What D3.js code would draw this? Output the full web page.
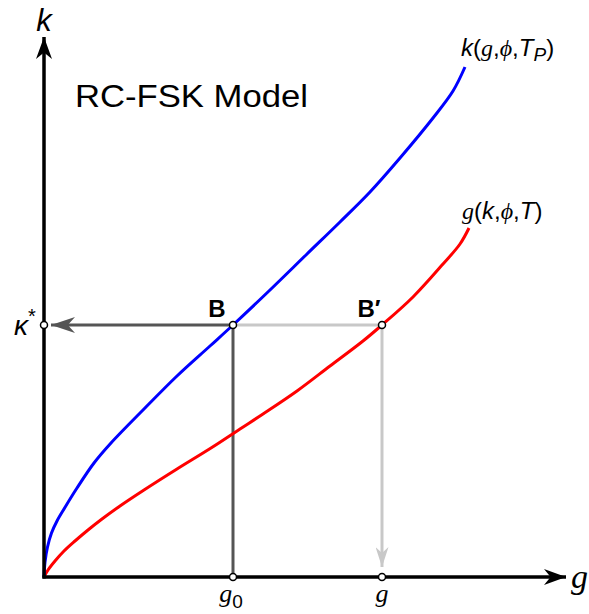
<!DOCTYPE html>
<meta charset="utf-8">
<title>RC-FSK Model</title>
<script src="https://cdn.jsdelivr.net/npm/d3@7"></script>
<style>
  body { margin: 0; background: #fff; }
</style>
<body>
<script>

// curve points (g, k) in arbitrary units
var kCurve = [[0,0],[0.02,0.3],[0.07,0.6],[0.15,0.88],[0.26,1.12],[0.4,1.36],[0.66,1.78],
              [1.0,2.28],[1.34,2.68],[2.0,3.36],[2.66,4.02],[3.32,4.62],[3.78,5.04],
              [4.52,5.74],[5.26,6.46],[5.92,7.1],[6.52,7.7],[7.12,8.38],[7.78,9.18],
              [8.18,9.72],[8.42,10.2]];
var gCurve = [[0,0],[0.08,0.14],[0.22,0.32],[0.4,0.52],[0.62,0.72],[0.88,0.94],[1.16,1.16],
              [1.52,1.42],[2.0,1.74],[2.66,2.16],[3.34,2.58],[3.92,2.96],[4.38,3.26],
              [5.06,3.72],[5.72,4.22],[6.38,4.72],[6.76,5.04],[7.38,5.6],[7.98,6.26],
              [8.32,6.66],[8.5,6.98]];
var pointB = [3.78, 5.04];
var pointBp = [6.76, 5.04];

var SANS = "'Liberation Sans', Arial, sans-serif";
var SERIF = "'Liberation Serif', 'DejaVu Serif', serif";

var w = 589, h = 614;
var svg = d3.select("body").append("svg")
    .attr("width", w)
    .attr("height", h)
    .style("font-family", SANS);

var x = d3.scaleLinear().domain([0, 10]).range([44, 544]);
var y = d3.scaleLinear().domain([0, 10]).range([577, 77]);

var defs = svg.append("defs");
function marker(id, color, len, wid) {
  defs.append("marker")
      .attr("id", id)
      .attr("viewBox", "0 0 " + len + " " + wid)
      .attr("refX", len).attr("refY", wid / 2)
      .attr("markerWidth", len).attr("markerHeight", wid)
      .attr("markerUnits", "userSpaceOnUse")
      .attr("orient", "auto")
    .append("path")
      .attr("d", "M0,0 L" + len + "," + wid / 2 + " L0," + wid + " L" + len * 0.3 + "," + wid / 2 + "Z")
      .attr("fill", color);
}
marker("ax", "#000", 22, 16);
marker("dk", "#555", 24, 16);
marker("lt", "#c8c8c8", 20, 13);

// guide lines
var g0 = x(pointB[0]), g1 = x(pointBp[0]), ky = y(pointB[1]);
svg.append("line").attr("x1", g0).attr("y1", ky).attr("x2", g1).attr("y2", ky)
    .attr("stroke", "#c8c8c8").attr("stroke-width", 3);
svg.append("line").attr("x1", g1).attr("y1", ky).attr("x2", g1).attr("y2", y(0) - 10)
    .attr("stroke", "#c8c8c8").attr("stroke-width", 3).attr("marker-end", "url(#lt)");
svg.append("line").attr("x1", g0).attr("y1", ky).attr("x2", g0).attr("y2", y(0))
    .attr("stroke", "#555").attr("stroke-width", 3);
svg.append("line").attr("x1", g0).attr("y1", ky).attr("x2", x(0) + 7).attr("y2", ky)
    .attr("stroke", "#555").attr("stroke-width", 3).attr("marker-end", "url(#dk)");

// curves
var line = d3.line()
    .x(function (d) { return x(d[0]); })
    .y(function (d) { return y(d[1]); })
    .curve(d3.curveCatmullRom.alpha(0.5));

svg.append("path").datum(gCurve).attr("d", line)
    .attr("fill", "none").attr("stroke", "#f00").attr("stroke-width", 3);
svg.append("path").datum(kCurve).attr("d", line)
    .attr("fill", "none").attr("stroke", "#00f").attr("stroke-width", 3);

// axes
svg.append("line").attr("x1", x(0) - 1.5).attr("y1", y(0)).attr("x2", 566).attr("y2", y(0))
    .attr("stroke", "#000").attr("stroke-width", 3.5).attr("marker-end", "url(#ax)");
svg.append("line").attr("x1", x(0)).attr("y1", y(0) + 1.5).attr("x2", x(0)).attr("y2", 37)
    .attr("stroke", "#000").attr("stroke-width", 3.5).attr("marker-end", "url(#ax)");

// small circles
var dots = [[g0, ky], [g1, ky], [x(0), ky], [g0, y(0)], [g1, y(0)]];
svg.selectAll(".dot").data(dots).enter().append("circle")
    .attr("class", "dot")
    .attr("cx", function (d) { return d[0]; })
    .attr("cy", function (d) { return d[1]; })
    .attr("r", 3.5)
    .attr("fill", "#fff").attr("stroke", "#000").attr("stroke-width", 1.5);

// labels
svg.append("text").attr("x", 75).attr("y", 107).attr("font-size", 31)
    .attr("textLength", 233).attr("lengthAdjust", "spacingAndGlyphs").text("RC-FSK Model");
svg.append("text").attr("x", 44).attr("y", 31).attr("text-anchor", "middle")
    .attr("font-size", 31).attr("font-style", "italic").text("k");
svg.append("text").attr("x", 571).attr("y", 588)
    .style("font-family", SERIF).attr("font-style", "italic")
    .attr("font-size", 34).text("g");

svg.append("text").attr("x", g0 - 16).attr("y", ky - 8).attr("text-anchor", "middle")
    .attr("font-size", 24).attr("font-weight", "bold").text("B");
svg.append("text").attr("x", g1 - 13).attr("y", ky - 8).attr("text-anchor", "middle")
    .attr("font-size", 24).attr("font-weight", "bold").text("B\u2032");

var kap = svg.append("text").attr("x", 14).attr("y", ky + 10).attr("font-size", 28);
kap.append("tspan").attr("font-style", "italic").text("\u03ba");
kap.append("tspan").attr("dy", -12).attr("font-size", 20).text("*");

var tg0 = svg.append("text").attr("x", g0 - 2).attr("y", 602).attr("text-anchor", "middle").attr("font-size", 26);
tg0.append("tspan").style("font-family", SERIF).attr("font-style", "italic").text("g");
tg0.append("tspan").attr("dy", 6).attr("font-size", 19).text("0");
svg.append("text").attr("x", g1).attr("y", 602)
    .style("font-family", SERIF).attr("font-style", "italic")
    .attr("text-anchor", "middle").attr("font-size", 26).text("g");

function part(t, txt, serif) {
  var s = t.append("tspan").text(txt);
  if (serif) s.style("font-family", SERIF).attr("font-style", "italic");
  return s;
}

var kl = svg.append("text").attr("x", 461).attr("y", 56).attr("font-size", 24);
part(kl, "k").attr("font-style", "italic");
part(kl, "(");
part(kl, "g", true);
part(kl, ",");
part(kl, "\u03d5", true);
part(kl, ",");
part(kl, "T").attr("font-style", "italic");
part(kl, "P").attr("font-style", "italic").attr("font-size", 19).attr("dy", 5);
part(kl, ")").attr("dy", -5);

var gl = svg.append("text").attr("x", 462).attr("y", 219).attr("font-size", 24);
part(gl, "g", true);
part(gl, "(");
part(gl, "k").attr("font-style", "italic");
part(gl, ",");
part(gl, "\u03d5", true);
part(gl, ",");
part(gl, "T").attr("font-style", "italic");
part(gl, ")");

</script>
